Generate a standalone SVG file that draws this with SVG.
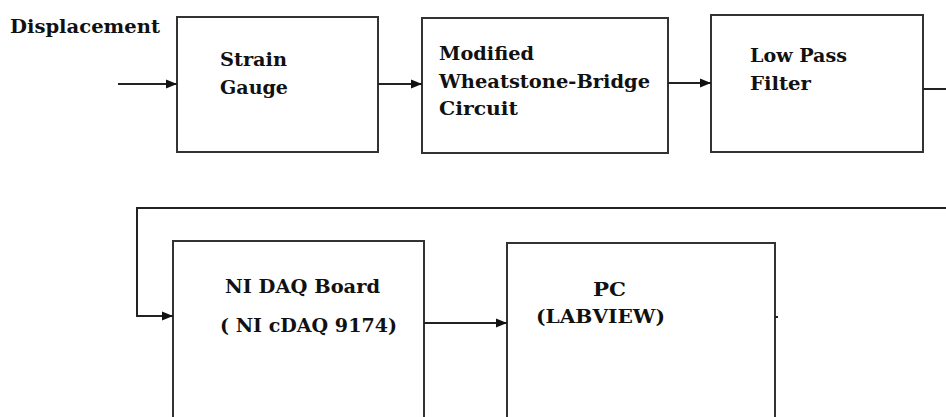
<svg xmlns="http://www.w3.org/2000/svg" width="946" height="417" viewBox="0 0 946 417">
<style>
.box{fill:#fff;stroke:#333;stroke-width:2}
.ln{fill:none;stroke:#222;stroke-width:2}
.t{font-family:"DejaVu Serif","Liberation Serif",serif;font-weight:bold;font-size:18px;fill:#111}
</style>
<defs>
<marker id="ah" markerWidth="12" markerHeight="12" refX="11" refY="6" orient="auto" markerUnits="userSpaceOnUse">
<path d="M0,1.5 L11,6 L0,10.5 Z" fill="#111"/>
</marker>
</defs>
<rect width="946" height="417" fill="#fff"/>
<text class="t" x="10" y="33" textLength="150" lengthAdjust="spacingAndGlyphs">Displacement</text>
<g id="strain">
<rect class="box" x="177" y="17" width="201" height="135"/>
<text class="t" x="220" y="66" textLength="67" lengthAdjust="spacingAndGlyphs">Strain</text>
<text class="t" x="220" y="94" textLength="68" lengthAdjust="spacingAndGlyphs">Gauge</text>
</g>
<g id="bridge">
<rect class="box" x="422" y="18" width="246" height="135"/>
<text class="t" x="439" y="60" textLength="95" lengthAdjust="spacingAndGlyphs">Modified</text>
<text class="t" x="439" y="88" textLength="211" lengthAdjust="spacingAndGlyphs">Wheatstone-Bridge</text>
<text class="t" x="439" y="115" textLength="79" lengthAdjust="spacingAndGlyphs">Circuit</text>
</g>
<g id="filter">
<rect class="box" x="711" y="15" width="212" height="137"/>
<text class="t" x="750" y="62" textLength="97" lengthAdjust="spacingAndGlyphs">Low Pass</text>
<text class="t" x="750" y="90" textLength="61" lengthAdjust="spacingAndGlyphs">Filter</text>
</g>
<g id="daq">
<rect class="box" x="173" y="241" width="251" height="190"/>
<text class="t" x="225" y="293" textLength="155" lengthAdjust="spacingAndGlyphs">NI DAQ Board</text>
<text class="t" x="220" y="332" textLength="177" lengthAdjust="spacingAndGlyphs">( NI cDAQ 9174)</text>
</g>
<g id="pc">
<rect class="box" x="507" y="243" width="268" height="190"/>
<text class="t" x="593" y="296" textLength="33" lengthAdjust="spacingAndGlyphs">PC</text>
<text class="t" x="536" y="323" textLength="129" lengthAdjust="spacingAndGlyphs">(LABVIEW)</text>
</g>
<g id="connectors">
<line class="ln" x1="118" y1="84" x2="177" y2="84" marker-end="url(#ah)"/>
<line class="ln" x1="378" y1="84" x2="422" y2="84" marker-end="url(#ah)"/>
<line class="ln" x1="668" y1="83" x2="711" y2="83" marker-end="url(#ah)"/>
<line class="ln" x1="923" y1="89" x2="946" y2="89"/>
<polyline class="ln" points="946,208 137,208 137,316 173,316" marker-end="url(#ah)"/>
<line class="ln" x1="424" y1="323" x2="507" y2="323" marker-end="url(#ah)"/>
<line class="ln" x1="775" y1="317" x2="778" y2="317" stroke-width="1"/>
</g>
</svg>
